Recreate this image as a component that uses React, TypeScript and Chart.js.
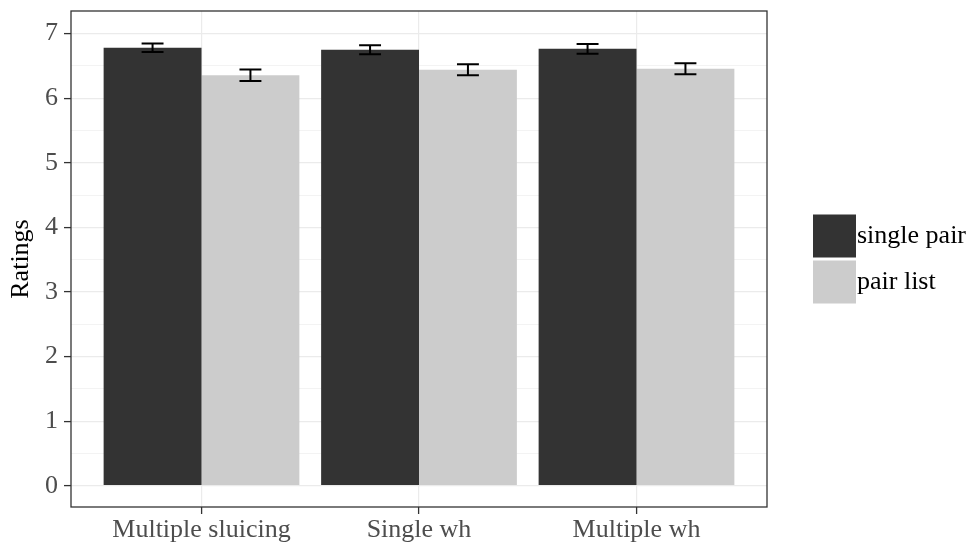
import React, { useEffect, useRef } from "react";
import { Chart, registerables } from "chart.js";

Chart.register(...registerables);

const categories = ["Multiple sluicing", "Single wh", "Multiple wh"];
const seriesNames = ["single pair", "pair list"];
const singlePair = [6.78, 6.75, 6.765];
const singlePairErr = [0.065, 0.07, 0.075];
const pairList = [6.355, 6.44, 6.455];
const pairListErr = [0.09, 0.085, 0.085];
const yTicks = [0, 1, 2, 3, 4, 5, 6, 7];
const yMinorTicks = [0.5, 1.5, 2.5, 3.5, 4.5, 5.5, 6.5];

const FONT = "'Liberation Serif', 'Times New Roman', serif";
const FS = 26;
const errors = [singlePairErr, pairListErr];

const errorBarPlugin = {
  id: "errorBars",
  afterDatasetsDraw(chart: any) {
    const ctx = chart.ctx;
    const yScale = chart.scales.y;
    ctx.save();
    ctx.strokeStyle = "#000000";
    ctx.lineWidth = 2;
    chart.data.datasets.forEach((ds: any, di: number) => {
      const meta = chart.getDatasetMeta(di);
      meta.data.forEach((el: any, i: number) => {
        const v = ds.data[i].y;
        const e = errors[di][i];
        const yTop = yScale.getPixelForValue(v + e);
        const yBot = yScale.getPixelForValue(v - e);
        const half = el.width * 0.112;
        ctx.beginPath();
        ctx.moveTo(el.x, yTop);
        ctx.lineTo(el.x, yBot);
        ctx.moveTo(el.x - half, yTop);
        ctx.lineTo(el.x + half, yTop);
        ctx.moveTo(el.x - half, yBot);
        ctx.lineTo(el.x + half, yBot);
        ctx.stroke();
      });
    });
    ctx.restore();
  },
};

const panelAndLegendPlugin = {
  id: "panelLegend",
  afterDraw(chart: any) {
    const ctx = chart.ctx;
    const a = chart.chartArea;
    ctx.save();
    ctx.strokeStyle = "#333333";
    ctx.lineWidth = 1.3;
    ctx.strokeRect(a.left, a.top, a.right - a.left, a.bottom - a.top);
    // legend
    const key = 43;
    const gap = 3;
    const n = chart.data.datasets.length;
    const total = n * key + (n - 1) * gap;
    const cy = (a.top + a.bottom) / 2;
    let y = cy - total / 2;
    const x = a.right + 46;
    ctx.font = `${FS}px ${FONT}`;
    ctx.textBaseline = "middle";
    ctx.textAlign = "left";
    chart.data.datasets.forEach((ds: any) => {
      ctx.fillStyle = ds.backgroundColor;
      ctx.fillRect(x, y, key, key);
      ctx.fillStyle = "#000000";
      ctx.fillText(ds.label, x + key + 1, y + key / 2);
      y += key + gap;
    });
    ctx.restore();
  },
};

export default function App() {
  const ref = useRef<HTMLCanvasElement>(null);
  useEffect(() => {
    if (!ref.current) return;
    const chart = new Chart(ref.current, {
      type: "bar",
      data: {
        datasets: [
          {
            label: seriesNames[0],
            data: singlePair.map((v, i) => ({ x: i + 1, y: v })),
            backgroundColor: "#333333",
          },
          {
            label: seriesNames[1],
            data: pairList.map((v, i) => ({ x: i + 1, y: v })),
            backgroundColor: "#cccccc",
          },
        ],
      },
      options: {
        responsive: false,
        animation: false,
        categoryPercentage: 0.9,
        barPercentage: 1.0,
        layout: { padding: { top: 11, right: 203, left: 0, bottom: 0 } },
        plugins: { legend: { display: false }, tooltip: { enabled: false } },
        scales: {
          x: {
            type: "linear",
            offset: false,
            min: 0.4,
            max: 3.6,
            afterBuildTicks: (s: any) => {
              s.ticks = categories.map((_, i) => ({ value: i + 1 }));
            },
            afterFit: (s: any) => {
              s.height = 37;
              s.paddingLeft = 0;
              s.paddingRight = 0;
            },
            ticks: {
              callback: (v: any) => categories[Math.round(v) - 1] ?? "",
              font: { family: FONT, size: FS },
              color: "#4d4d4d",
              padding: 1,
              maxRotation: 0,
              autoSkip: false,
            },
            grid: {
              offset: false,
              color: "#ebebeb",
              lineWidth: 1.2,
              tickColor: "#333333",
              tickWidth: 1.3,
              tickLength: 7,
            },
            border: { display: false },
          },
          y: {
            type: "linear",
            min: -0.33,
            max: 7.35,
            afterBuildTicks: (s: any) => {
              s.ticks = [...yTicks, ...yMinorTicks]
                .sort((p, q) => p - q)
                .map((v) => ({ value: v }));
            },
            afterFit: (s: any) => {
              s.width = 71;
              s.paddingTop = 0;
              s.paddingBottom = 0;
            },
            ticks: {
              callback: (v: any) => (yTicks.includes(v) ? String(v) : ""),
              font: { family: FONT, size: FS },
              color: "#4d4d4d",
              padding: 6,
              autoSkip: false,
            },
            grid: {
              color: "#ebebeb",
              lineWidth: (c: any) => (yTicks.includes(c.tick?.value) ? 1.2 : 0.6),
              tickColor: (c: any) => (yTicks.includes(c.tick?.value) ? "#333333" : "rgba(0,0,0,0)"),
              tickWidth: 1.3,
              tickLength: 7,
            },
            border: { display: false },
            title: {
              display: true,
              text: "Ratings",
              font: { family: FONT, size: FS },
              color: "#000000",
              padding: { top: 6, bottom: 0 },
            },
          },
        },
      },
      plugins: [errorBarPlugin, panelAndLegendPlugin],
    } as any);
    return () => chart.destroy();
  }, []);
  return (
    <div style={{ position: "fixed", left: 0, top: 0, width: 970, height: 544, background: "#ffffff" }}>
      <canvas ref={ref} width={970} height={544} />
    </div>
  );
}
